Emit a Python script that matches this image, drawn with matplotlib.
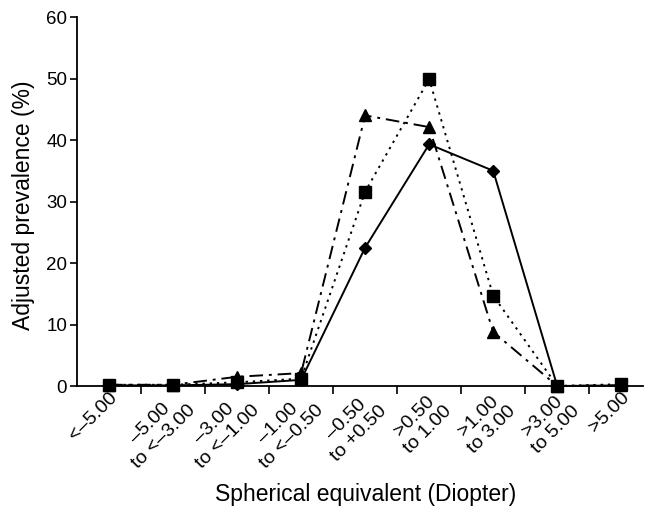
import numpy as np
import matplotlib.pyplot as plt

plt.rcParams['font.family'] = ['Liberation Sans', 'DejaVu Sans']

# kategorie ekwiwalentu sferycznego
categories = [
    "<\u20135.00",
    "\u20135.00\nto <\u20133.00",
    "\u20133.00\nto <\u20131.00",
    "\u20131.00\nto <\u20130.50",
    "\u20130.50\nto +0.50",
    ">0.50\nto 1.00",
    ">1.00\nto 3.00",
    ">3.00\nto 5.00",
    ">5.00",
]

# wartości (%)
diamond_vals = [0.1, 0.1, 0.3, 1.0, 22.5, 39.3, 35.0, 0.0, 0.1]
square_vals = [0.2, 0.2, 0.6, 1.2, 31.6, 49.9, 14.7, 0.0, 0.3]
triangle_vals = [0.2, 0.2, 1.5, 2.1, 44.0, 42.1, 8.8, 0.0, 0.1]


def main():
    fig = plt.figure(figsize=(6.49, 5.11), dpi=100)
    ax = fig.add_axes([0.1186, 0.2446, 0.8722, 0.7221])

    x = np.arange(len(categories))
    ax.plot(x, triangle_vals, color="black", lw=1.4, ls=(0, (7, 3, 1.5, 3)),
            marker="^", ms=9, clip_on=False, zorder=3)
    ax.plot(x, square_vals, color="black", lw=1.4, ls=(0, (1.2, 2.5)),
            marker="s", ms=8.5, clip_on=False, zorder=4)
    ax.plot(x, diamond_vals, color="black", lw=1.4, ls="-",
            marker="D", ms=6.5, clip_on=False, zorder=5)

    ax.set_xlim(-0.5, 8.34)
    ax.set_ylim(0, 60)
    ax.set_yticks(range(0, 61, 10))

    ax.set_xticks(x)
    ax.set_xticklabels(categories, rotation=45, ha="right", va="top",
                       rotation_mode="anchor", multialignment="center",
                       fontsize=14, linespacing=1.15)
    ax.set_xticks(np.arange(0.5, 8, 1.0), minor=True)
    ax.tick_params(axis="x", which="major", length=0, pad=2)
    ax.tick_params(axis="x", which="minor", length=6, width=1.2, direction="out")
    ax.tick_params(axis="y", length=5, width=1.2, labelsize=13.5, pad=2)

    for s in ["top", "right"]:
        ax.spines[s].set_visible(False)
    for s in ["left", "bottom"]:
        ax.spines[s].set_linewidth(1.3)

    ax.set_ylabel("Adjusted prevalence (%)", fontsize=16.5, va="center")
    ax.yaxis.set_label_coords(-0.095, 0.49)
    ax.set_xlabel("Spherical equivalent (Diopter)", fontsize=16.5, va="center")
    ax.xaxis.set_label_coords(0.51, -0.295)

    fig.savefig("out.png", dpi=100)


if __name__ == "__main__":
    main()
